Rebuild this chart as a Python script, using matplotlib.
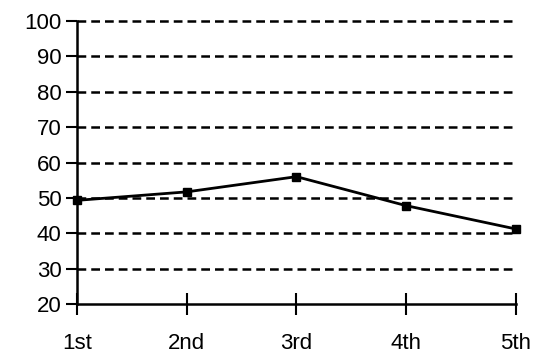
import matplotlib
matplotlib.use("Agg")
import matplotlib.pyplot as plt

categories = ["1st", "2nd", "3rd", "4th", "5th"]
values = [49.3, 51.7, 56.0, 47.8, 41.2]
y_ticks = [20, 30, 40, 50, 60, 70, 80, 90, 100]

plt.rcParams["font.family"] = ["Liberation Sans", "DejaVu Sans"]

fig = plt.figure(figsize=(5.49, 3.56), dpi=100)
ax = fig.add_axes([0.140, 0.146, 0.800, 0.795])

x = list(range(len(categories)))
ax.plot(x, values, color="black", linewidth=2.0, marker="s", markersize=6,
        zorder=3, clip_on=False)

ax.set_xlim(0, len(categories) - 1)
ax.set_ylim(20, 100)
ax.set_yticks(y_ticks)
ax.set_xticks(x)
ax.set_xticklabels(categories)

for t in y_ticks[1:]:
  ax.axhline(t, color="black", linewidth=1.8, linestyle=(0, (3.5, 2)),
             zorder=1, clip_on=False)

for side in ("top", "right"):
  ax.spines[side].set_visible(False)
for side in ("left", "bottom"):
  ax.spines[side].set_linewidth(1.8)

ax.tick_params(axis="y", direction="out", length=8, width=1.5, labelsize=16, pad=3)
ax.tick_params(axis="x", direction="inout", length=16, width=1.5, labelsize=16, pad=13)

fig.savefig("out.png", dpi=100)
